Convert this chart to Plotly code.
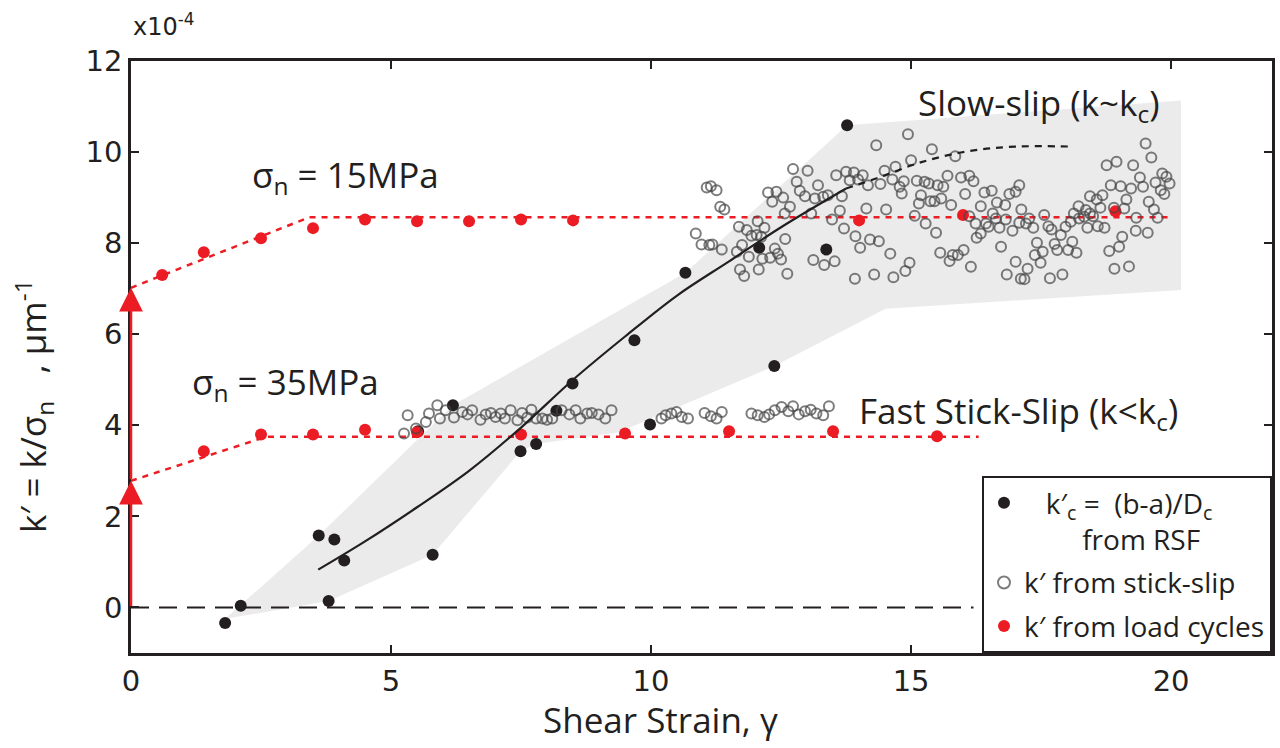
import plotly.graph_objects as go

# ---------------- data ----------------
# k'c = (b-a)/Dc from RSF (black dots)
rsf_x = [1.81, 2.11, 3.61, 3.80, 3.91, 4.10, 5.52, 5.80, 6.19, 7.49, 7.79, 8.18, 8.49,
         9.68, 9.98, 10.66, 12.08, 12.37, 13.37, 13.77]
rsf_y = [-0.34, 0.04, 1.58, 0.14, 1.49, 1.03, 3.87, 1.16, 4.44, 3.43, 3.59, 4.32, 4.92,
         5.87, 4.02, 7.35, 7.90, 5.30, 7.86, 10.59]

# fitted trend of k'c (solid part, then dotted extrapolation)
fit_x = [3.6, 4.5, 5.5, 6.5, 7.5, 8.5, 9.5, 10.5, 11.5, 12.5, 13.75]
fit_y = [0.83, 1.45, 2.2, 3.0, 3.95, 5.0, 5.95, 6.85, 7.6, 8.35, 9.2]
ext_x = [13.75, 14.4, 15.2, 16.1, 17.0, 18.1]
ext_y = [9.2, 9.45, 9.78, 10.02, 10.12, 10.12]

# grey envelope around the RSF values
env_x = [1.81, 3.61, 6.19, 10.66, 13.77, 20.19, 20.19, 14.51, 12.37, 9.38, 7.79, 7.49, 5.80, 3.80, 1.81]
env_y = [-0.25, 1.58, 4.44, 7.35, 10.59, 11.13, 6.97, 6.56, 5.30, 3.85, 3.59, 3.43, 1.16, 0.14, -0.25]

# k' from load cycles (red dots)
lc15_x = [0.6, 1.4, 2.5, 3.5, 4.5, 5.5, 6.5, 7.5, 8.5, 14.0, 16.0, 18.93]
lc15_y = [7.30, 7.80, 8.11, 8.33, 8.52, 8.48, 8.48, 8.52, 8.50, 8.50, 8.62, 8.70]
lc35_x = [1.4, 2.5, 3.5, 4.5, 5.5, 7.5, 9.5, 11.5, 13.5, 15.5]
lc35_y = [3.43, 3.80, 3.80, 3.90, 3.85, 3.80, 3.82, 3.87, 3.87, 3.76]

# dotted guide lines of the load-cycle stiffness
guide15_x = [0, 3.43, 20.0]
guide15_y = [7.02, 8.57, 8.57]
guide35_x = [0, 2.6, 16.3]
guide35_y = [2.78, 3.75, 3.75]

zero_x = [0, 16.2]
zero_y = [0, 0]

# k' from stick-slip (open grey circles)
ss_low_x = [5.25, 5.32, 5.48, 5.67, 5.73, 5.89, 5.94, 6.05, 6.21, 6.37, 6.47, 6.56, 6.72, 6.82,
            6.92, 7.01, 7.11, 7.19, 7.30, 7.43, 7.52, 7.62, 7.70, 7.79, 7.91, 8.00, 8.10, 8.28,
            8.43, 8.55, 8.64, 8.77, 8.86, 8.99, 9.12, 9.24, 10.20, 10.28, 10.39, 10.49, 10.59,
            10.71, 11.03, 11.15, 11.26, 11.36, 11.93, 12.05, 12.18, 12.27, 12.38, 12.51, 12.64,
            12.73, 12.84, 12.96, 13.07, 13.18, 13.31, 13.42]
ss_low_y = [3.82, 4.22, 3.93, 4.07, 4.26, 4.44, 4.15, 4.33, 4.17, 4.29, 4.24, 4.33, 4.12, 4.24,
            4.27, 4.18, 4.26, 4.15, 4.33, 4.11, 4.27, 4.17, 4.34, 4.15, 4.15, 4.12, 4.15, 4.33,
            4.24, 4.33, 4.15, 4.26, 4.27, 4.24, 4.15, 4.33, 4.15, 4.22, 4.26, 4.29, 4.18,
            4.15, 4.27, 4.20, 4.15, 4.29, 4.26, 4.22, 4.18, 4.24, 4.33, 4.40, 4.31,
            4.42, 4.24, 4.31, 4.34, 4.26, 4.22, 4.42]

ss_a_x = [12.73, 13.01, 13.56, 13.75, 13.90, 13.82, 12.80, 13.21, 11.07, 11.15, 11.26, 12.25,
          12.41, 12.86, 12.96, 12.54, 12.33, 13.15, 13.31, 13.40, 13.67, 11.33, 11.41, 12.67,
          12.57, 13.08, 13.63, 13.48, 12.05, 11.69, 12.18, 11.84, 11.93, 12.03, 12.12, 10.86,
          13.71, 13.93, 10.97, 11.12, 11.18, 11.36, 11.75, 11.65, 12.38, 12.58, 12.44, 12.50,
          11.88, 12.14, 12.29, 13.12, 13.33, 13.53, 11.71, 11.79, 12.07, 12.62, 13.92]
ss_a_y = [9.63, 9.59, 9.49, 9.57, 9.55, 9.38, 9.35, 9.27, 9.22, 9.25, 9.16, 9.11,
          9.13, 9.15, 9.03, 9.00, 8.91, 8.98, 9.02, 9.05, 9.03, 8.80, 8.74, 8.80,
          8.65, 8.65, 8.71, 8.52, 8.48, 8.36, 8.34, 8.29, 8.16, 8.18, 8.14, 8.21,
          8.32, 8.15, 7.97, 7.96, 7.97, 7.86, 7.96, 7.81, 7.88, 8.09, 7.77, 7.64,
          7.70, 7.66, 7.68, 7.63, 7.52, 7.60, 7.42, 7.28, 7.42, 7.33, 7.22]

ss_b_x = [14.94, 14.33, 15.40, 15.85, 15.00, 14.70, 14.49, 14.07, 13.98, 14.17, 14.41, 14.64,
          14.86, 14.78, 14.82, 15.11, 15.26, 15.34, 15.51, 15.62, 15.70, 15.96, 16.12, 16.20,
          16.04, 15.19, 15.15, 15.37, 15.45, 15.58, 15.77, 14.14, 14.52, 15.07, 15.28, 15.48,
          14.21, 14.38, 14.02, 14.60, 15.56, 15.74, 15.80, 15.90, 16.01, 16.15, 14.97, 14.89,
          14.66, 14.29, 16.41, 16.55, 16.34, 16.65, 16.81, 16.89, 17.01, 17.08, 16.57, 16.44,
          16.70, 16.95, 16.12, 16.24, 16.26, 16.34, 16.49, 16.63, 16.82, 17.08, 16.73, 17.01,
          16.84, 17.11]
ss_b_y = [10.39, 10.15, 10.06, 9.91, 9.82, 9.68, 9.59, 9.49, 9.40, 9.27, 9.30, 9.40,
          9.36, 9.24, 9.09, 9.37, 9.35, 9.31, 9.27, 9.24, 9.48, 9.44, 9.48, 9.36,
          9.08, 9.05, 8.87, 8.92, 8.92, 8.98, 8.84, 8.76, 8.74, 8.60, 8.43, 8.23,
          8.08, 8.04, 7.90, 7.77, 7.79, 7.61, 7.74, 7.74, 7.85, 7.48, 7.57, 7.39,
          7.25, 7.31, 9.11, 9.15, 8.81, 8.89, 8.84, 9.08, 9.13, 9.27, 8.65, 8.43,
          8.34, 8.27, 8.59, 8.43, 8.12, 8.21, 8.36, 8.54, 8.52, 8.45, 7.92, 7.59,
          7.31, 7.22]

ss_c_x = [19.51, 19.62, 18.76, 18.95, 19.27, 18.84, 19.03, 19.23, 19.46, 19.40, 19.70, 19.83,
          19.91, 19.97, 19.80, 19.87, 18.44, 18.57, 18.68, 19.57, 19.14, 19.67, 17.12, 18.22,
          18.13, 18.36, 18.44, 18.64, 18.90, 19.10, 17.56, 17.27, 17.21, 17.35, 17.64, 17.70,
          17.97, 18.07, 18.23, 18.33, 18.50, 18.39, 18.59, 18.72, 19.33, 19.74, 19.32, 19.55,
          17.88, 17.42, 17.76, 17.81, 18.10, 18.02, 18.18, 17.53, 17.38, 17.49, 17.24, 17.18,
          17.67, 17.91, 19.06, 19.00, 18.81, 19.19, 18.91]
ss_c_y = [10.19, 9.88, 9.71, 9.79, 9.71, 9.27, 9.25, 9.20, 9.24, 9.44, 9.33, 9.53,
          9.46, 9.31, 9.16, 9.08, 9.03, 8.96, 9.05, 8.91, 8.96, 8.74, 8.74, 8.81,
          8.65, 8.73, 8.65, 8.78, 8.78, 8.76, 8.62, 8.54, 8.43, 8.34, 8.37, 8.30,
          8.36, 8.47, 8.54, 8.58, 8.59, 8.34, 8.37, 8.34, 8.56, 8.56, 8.27, 8.23,
          8.18, 8.01, 7.98, 7.85, 8.03, 7.85, 7.79, 7.81, 7.74, 7.57, 7.44, 7.21,
          7.23, 7.31, 8.14, 7.92, 7.83, 7.49, 7.44]

ss_x = ss_low_x + ss_a_x + ss_b_x + ss_c_x
ss_y = ss_low_y + ss_a_y + ss_b_y + ss_c_y

x_ticks = [0, 5, 10, 15, 20]
y_ticks = [0, 2, 4, 6, 8, 10, 12]

# ---------------- styles ----------------
RED = "#ec1c24"
INK = "#231f20"
TXT_FONT = "Open Sans, Lato, sans-serif"
TICK_FONT = "DejaVu Sans, sans-serif"
NB = "\u00a0"

fig = go.Figure()

fig.add_trace(go.Scatter(x=env_x, y=env_y, mode="lines", fill="toself",
                         fillcolor="#ebebeb", line=dict(width=0),
                         showlegend=False, hoverinfo="skip"))
fig.add_trace(go.Scatter(x=zero_x, y=zero_y, mode="lines",
                         line=dict(color=INK, width=2, dash="18px,10px"),
                         showlegend=False, hoverinfo="skip"))
for gx, gy in ((guide15_x, guide15_y), (guide35_x, guide35_y)):
    fig.add_trace(go.Scatter(x=gx, y=gy, mode="lines",
                             line=dict(color=RED, width=2.5, dash="6px,6px"),
                             showlegend=False, hoverinfo="skip"))

fig.add_trace(go.Scatter(x=rsf_x, y=rsf_y, mode="markers",
                         marker=dict(color=INK, size=12),
                         name=NB * 3 + "k′<sub>c</sub> =  (b-a)/D<sub>c</sub><br>" + NB * 8 + "from RSF",
                         legendrank=1, legendgroup="a"))
fig.add_trace(go.Scatter(x=lc15_x, y=lc15_y, mode="markers",
                         marker=dict(color=RED, size=12),
                         name="k′ from load cycles", legendrank=3, legendgroup="c"))
fig.add_trace(go.Scatter(x=lc35_x, y=lc35_y, mode="markers",
                         marker=dict(color=RED, size=12),
                         name="k′ from load cycles", showlegend=False, legendgroup="c"))
fig.add_trace(go.Scatter(x=ss_x, y=ss_y, mode="markers",
                         marker=dict(symbol="circle-open", color="rgba(70,70,70,0.7)",
                                     size=10, line=dict(width=2)),
                         name="k′ from stick-slip", legendrank=2, legendgroup="b"))
fig.add_trace(go.Scatter(x=fit_x, y=fit_y, mode="lines", line_shape="spline",
                         line=dict(color=INK, width=2.2), showlegend=False, hoverinfo="skip"))
fig.add_trace(go.Scatter(x=ext_x, y=ext_y, mode="lines", line_shape="spline",
                         line=dict(color=INK, width=2.2, dash="7px,6px"),
                         showlegend=False, hoverinfo="skip"))

# red arrows on the y axis
fig.add_annotation(x=0, y=guide35_y[0], ax=0, ay=0, xref="x", yref="y", axref="x", ayref="y",
                   showarrow=True, arrowhead=2, arrowsize=1.9, arrowwidth=2.5,
                   arrowcolor=RED, text="")
fig.add_annotation(x=0, y=guide15_y[0], ax=0, ay=guide35_y[0], xref="x", yref="y",
                   axref="x", ayref="y", showarrow=True, arrowhead=2, arrowsize=1.9,
                   arrowwidth=2.5, arrowcolor=RED, text="")

label_font = dict(family=TXT_FONT, size=35, color=INK)
fig.add_annotation(x=0.104, y=0.805, xref="paper", yref="paper", xanchor="left", yanchor="middle",
                   text="σ<sub>n</sub> = 15MPa", showarrow=False, font=label_font)
fig.add_annotation(x=0.052, y=0.455, xref="paper", yref="paper", xanchor="left", yanchor="middle",
                   text="σ<sub>n</sub> = 35MPa", showarrow=False, font=label_font)
fig.add_annotation(x=0.688, y=0.926, xref="paper", yref="paper", xanchor="left", yanchor="middle",
                   text="Slow-slip (k~k<sub>c</sub>)", showarrow=False, font=label_font)
fig.add_annotation(x=0.636, y=0.406, xref="paper", yref="paper", xanchor="left", yanchor="middle",
                   text="Fast Stick-Slip (k&lt;k<sub>c</sub>)", showarrow=False, font=label_font)

# axis titles and exponent
fig.add_annotation(x=0.464, y=-0.113, xref="paper", yref="paper", xanchor="center", yanchor="middle",
                   text="Shear Strain, γ", showarrow=False,
                   font=dict(family=TXT_FONT, size=35, color=INK))
fig.add_annotation(x=-0.086, y=0.417, xref="paper", yref="paper", xanchor="center", yanchor="middle",
                   text="k′ = k/σ<sub>n</sub>" + NB * 3 + ", μm<sup>-1</sup>", textangle=-90,
                   showarrow=False, font=dict(family=TXT_FONT, size=35, color=INK))
fig.add_annotation(x=0.0, y=1.031, xref="paper", yref="paper", xanchor="left", yanchor="bottom",
                   text="x10<sup>-4</sup>", showarrow=False,
                   font=dict(family=TICK_FONT, size=24, color=INK))

axis_common = dict(showline=True, linecolor=INK, linewidth=2.5, mirror="ticks",
                   ticks="inside", ticklen=8, tickwidth=1.5, tickcolor=INK,
                   showgrid=False, zeroline=False,
                   tickfont=dict(family=TICK_FONT, size=29, color=INK))
fig.update_xaxes(range=[0, 21.94], tickvals=x_ticks, ticktext=[str(v) for v in x_ticks],
                 **axis_common)
fig.update_yaxes(range=[-1, 12], tickvals=y_ticks, ticktext=[str(v) for v in y_ticks],
                 **axis_common)

fig.update_layout(
    width=1280, height=748,
    margin=dict(l=131, r=5, t=61, b=95),
    paper_bgcolor="white", plot_bgcolor="white",
    showlegend=True,
    legend=dict(x=1, y=0, xanchor="right", yanchor="bottom",
                bgcolor="white", bordercolor=INK, borderwidth=2,
                font=dict(family=TXT_FONT, size=28, color=INK),
                tracegroupgap=4, itemsizing="constant", valign="top"),
)

fig.write_html("out.html", config={"displayModeBar": False},
               post_script="document.body.style.margin='0';document.body.style.overflow='hidden';")
